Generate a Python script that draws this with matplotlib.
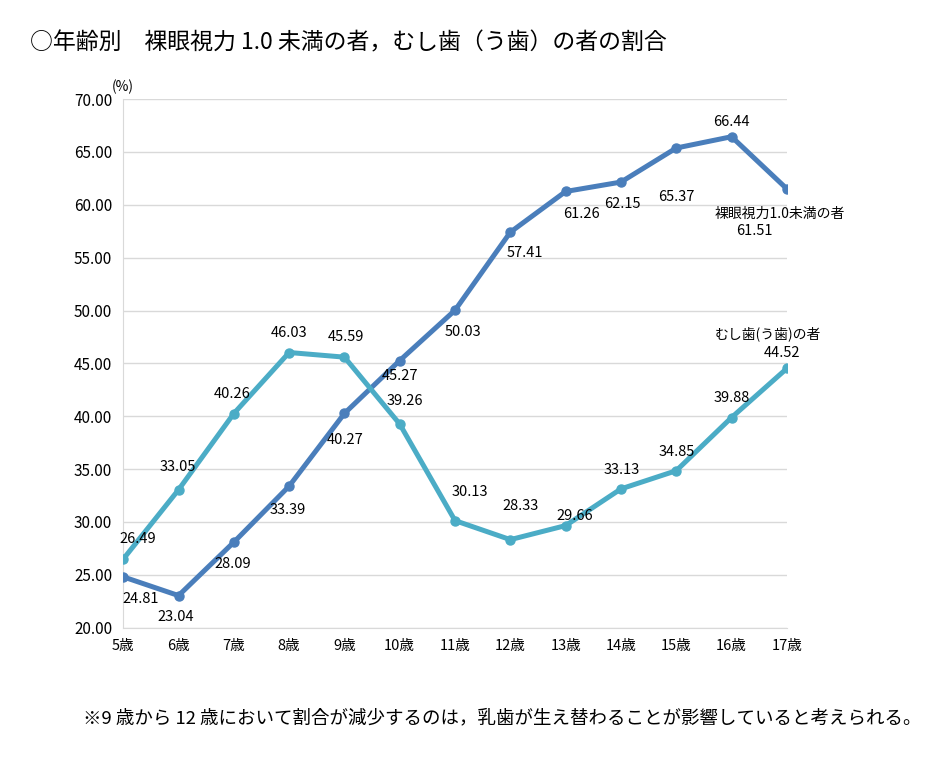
import numpy as np
import matplotlib
matplotlib.use("Agg")
from matplotlib import pyplot as plt

plt.rcParams['font.family'] = ['Noto Sans CJK JP', 'DejaVu Sans']

ages = ["5歳", "6歳", "7歳", "8歳", "9歳", "10歳", "11歳", "12歳", "13歳", "14歳", "15歳", "16歳", "17歳"]
eyesight = [24.81, 23.04, 28.09, 33.39, 40.27, 45.27, 50.03, 57.41, 61.26, 62.15, 65.37, 66.44, 61.51]
caries = [26.49, 33.05, 40.26, 46.03, 45.59, 39.26, 30.13, 28.33, 29.66, 33.13, 34.85, 39.88, 44.52]
eyesight_name = "裸眼視力1.0未満の者"
caries_name = "むし歯(う歯)の者"

# label offsets in pixels (dx, dy)
eye_off = [(17, -22), (-3, -21), (-1, -22), (-1, -24), (1, -27), (0, -15), (8, -22), (15, -21),
           (16, -23), (1, -22), (0, -49), (0, 15), (-32, -42)]
car_off = [(15, 20), (-1, 23), (-2, 20), (0, 20), (1, 20), (5, 23), (15, 29), (10, 34),
           (9, 10), (1, 19), (0, 19), (0, 20), (-5, 15)]

blue = "#4a7ebb"
teal = "#4bacc6"

fig = plt.figure(figsize=(9.48, 7.74), dpi=100)
ax = fig.add_axes([0.130, 0.189, 0.700, 0.683])

x = np.arange(len(ages))
ax.plot(x, eyesight, color=blue, lw=3.6, marker="o", ms=6.5, zorder=3)
ax.plot(x, caries, color=teal, lw=3.6, marker="o", ms=6.5, zorder=3)

for i, v in enumerate(eyesight):
    ax.annotate(f"{v:.2f}", (x[i], v), xytext=eye_off[i], textcoords="offset pixels",
                ha="center", va="center", fontsize=10.5)
for i, v in enumerate(caries):
    ax.annotate(f"{v:.2f}", (x[i], v), xytext=car_off[i], textcoords="offset pixels",
                ha="center", va="center", fontsize=10.5)
ax.annotate(eyesight_name, (x[-1], eyesight[-1]), xytext=(-7, -25), textcoords="offset pixels",
            ha="center", va="center", fontsize=10)
ax.annotate(caries_name, (x[-1], caries[-1]), xytext=(-19, 35), textcoords="offset pixels",
            ha="center", va="center", fontsize=10)

ax.set_xlim(0, len(ages) - 1)
ax.set_ylim(20, 70)
ax.set_yticks(np.arange(20, 71, 5))
ax.set_yticklabels([f"{t:.2f}" for t in np.arange(20, 71, 5)], fontsize=11)
ax.set_xticks(x)
ax.set_xticklabels(ages, fontsize=10.5)
ax.tick_params(length=0, pad=8)
ax.grid(axis="y", color="#d9d9d9", lw=1)
ax.set_axisbelow(True)
for s in ["top", "right"]:
    ax.spines[s].set_visible(False)
ax.spines["left"].set_color("#d9d9d9")
ax.spines["bottom"].set_color("#d9d9d9")
ax.text(0.0, 1.01, "(%)", transform=ax.transAxes, ha="center", va="bottom", fontsize=10)

fig.text(30 / 948, 1 - 43 / 774, "○年齢別　裸眼視力 1.0 未満の者，むし歯（う歯）の者の割合",
         ha="left", va="center", fontsize=16.5)
fig.text(83 / 948, 1 - 718 / 774, "※9 歳から 12 歳において割合が減少するのは，乳歯が生え替わることが影響していると考えられる。",
         ha="left", va="center", fontsize=13.3)

fig.savefig("out.png", dpi=100)
